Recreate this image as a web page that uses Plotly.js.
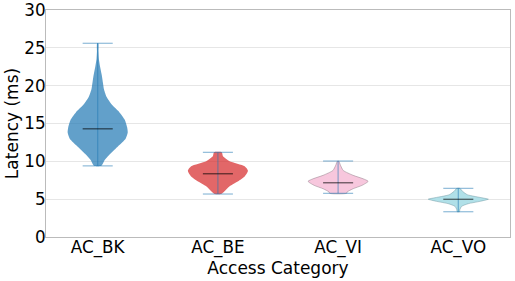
<!DOCTYPE html>
<html>
<head>
<meta charset="utf-8">
<script src="https://cdn.plot.ly/plotly-3.0.1.min.js"></script>
<style>html,body{margin:0;padding:0;background:#fff;}</style>
</head>
<body>
<div id="chart" style="width:515px;height:281px;"></div>
<script>
// Categories and summary statistics (ms)
const categories = ["AC_BK", "AC_BE", "AC_VI", "AC_VO"];
const minimums = [9.4, 5.68, 5.77, 3.34];
const maximums = [25.6, 11.19, 10.04, 6.43];
const medians = [14.3, 8.36, 7.17, 4.98];

// Density profiles (latency level, relative density 0..1)
const bkLevels =  [9.4, 10.2, 11.0, 12.0, 13.0, 13.8, 14.5, 15.5, 16.5, 17.5, 18.5, 19.5, 20.5, 21.5, 22.5, 23.5, 24.5, 25.6];
const bkDensity = [0.12, 0.24, 0.42, 0.68, 0.93, 1.0, 0.98, 0.90, 0.72, 0.47, 0.30, 0.21, 0.17, 0.13, 0.08, 0.04, 0.025, 0.02];
const beLevels =  [5.68, 6.04, 6.7, 7.36, 8.0, 8.76, 9.34, 10.0, 10.66, 11.19];
const beDensity = [0.11, 0.22, 0.39, 0.67, 0.89, 1.0, 0.89, 0.39, 0.17, 0.13];
const viLevels =  [5.77, 5.95, 6.38, 6.83, 7.36, 7.7, 8.15, 8.8, 9.47, 10.04];
const viDensity = [0.28, 0.30, 0.50, 0.80, 1.0, 0.83, 0.50, 0.17, 0.08, 0.02];
const voLevels =  [3.34, 3.6, 4.05, 4.4, 4.71, 5.0, 5.15, 5.59, 6.04, 6.43];
const voDensity = [0.04, 0.05, 0.11, 0.33, 0.72, 1.0, 0.83, 0.30, 0.14, 0.05];

const levelSets = [bkLevels, beLevels, viLevels, voLevels];
const densitySets = [bkDensity, beDensity, viDensity, voDensity];
const fills = ["rgba(31,119,180,0.7)", "rgba(214,39,40,0.7)", "rgb(247,199,221)", "rgb(176,224,232)"];
const edges = ["rgba(31,119,180,0.0)", "rgba(214,39,40,0.0)", "rgba(140,120,130,0.6)", "rgba(110,150,160,0.6)"];
const halfMax = 0.25, capHalf = 0.125;
const barColor = "rgba(31,119,180,0.5)";
const medColor = "rgba(0,0,0,0.55)";

const traces = [];
categories.forEach((c, i) => {
  const pos = i + 1;
  const lv = levelSets[i], dn = densitySets[i];
  const xs = [], ys = [];
  for (let k = 0; k < lv.length; k++) { xs.push(pos + dn[k] * halfMax); ys.push(lv[k]); }
  for (let k = lv.length - 1; k >= 0; k--) { xs.push(pos - dn[k] * halfMax); ys.push(lv[k]); }
  xs.push(xs[0]); ys.push(ys[0]);
  traces.push({x: xs, y: ys, type: "scatter", mode: "lines", fill: "toself",
    fillcolor: fills[i], line: {color: edges[i], width: 0.8, shape: "spline", smoothing: 0.6},
    hoverinfo: "skip", showlegend: false});
});
categories.forEach((c, i) => {
  const pos = i + 1;
  traces.push({x: [pos, pos], y: [minimums[i], maximums[i]], type: "scatter", mode: "lines",
    line: {color: barColor, width: 1.2}, showlegend: false, hoverinfo: "skip"});
  traces.push({x: [pos - capHalf, pos + capHalf, null, pos - capHalf, pos + capHalf],
    y: [minimums[i], minimums[i], null, maximums[i], maximums[i]], type: "scatter", mode: "lines",
    line: {color: barColor, width: 1.2}, showlegend: false, hoverinfo: "skip"});
  traces.push({x: [pos - capHalf, pos + capHalf], y: [medians[i], medians[i]], type: "scatter", mode: "lines",
    line: {color: medColor, width: 1.4}, showlegend: false, hoverinfo: "skip"});
});

const layout = {
  width: 515, height: 281,
  margin: {l: 46, r: 5, t: 10, b: 44},
  paper_bgcolor: "#fff", plot_bgcolor: "#fff",
  font: {family: "DejaVu Sans", size: 16.5, color: "#000"},
  showlegend: false,
  xaxis: {
    range: [0.57, 4.43], tickmode: "array", tickvals: [1, 2, 3, 4], ticktext: categories,
    showgrid: false, zeroline: false, showline: true, mirror: true, linecolor: "#bbbbbb", linewidth: 1,
    ticks: "", ticklabelstandoff: -5, ticklabeloverflow: "allow", automargin: "bottom",
    tickfont: {family: "DejaVu Sans", size: 16.8, color: "#000"},
    title: {text: "Access Category", font: {family: "DejaVu Sans", size: 17, color: "#000"}, standoff: 0}
  },
  yaxis: {
    range: [0, 30], tickmode: "linear", tick0: 0, dtick: 5,
    showgrid: true, gridcolor: "#e6e6e6", gridwidth: 1, zeroline: false,
    showline: true, mirror: true, linecolor: "#bbbbbb", linewidth: 1,
    ticks: "", ticklabelstandoff: -4, ticklabeloverflow: "allow", automargin: "left",
    tickfont: {family: "DejaVu Sans", size: 16.8, color: "#000"},
    title: {text: "Latency (ms)", font: {family: "DejaVu Sans", size: 17, color: "#000"}, standoff: 1}
  }
};
Plotly.newPlot("chart", traces, layout, {staticPlot: true, displayModeBar: false});
</script>
</body>
</html>
